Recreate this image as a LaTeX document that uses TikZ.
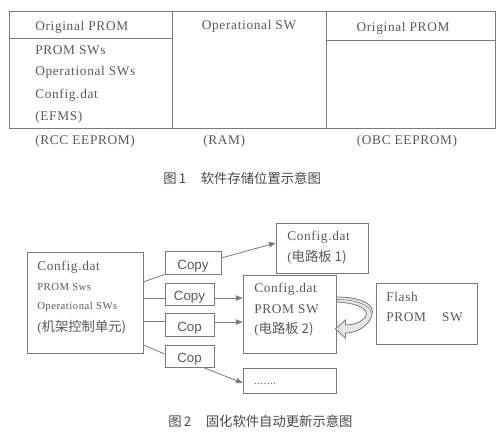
\documentclass[tikz,border=0pt]{standalone}
\usepackage{fontspec}
\setmainfont{Liberation Serif}[LetterSpace=5]
\newfontfamily\sansf{Liberation Sans}
\newfontfamily\cjk{Noto Sans CJK SC}
\usetikzlibrary{arrows.meta}
\newdimen\px \px=0.75pt
\definecolor{ln}{HTML}{7A7A7A}
\definecolor{tx}{HTML}{5A5A5A}
\definecolor{tx2}{HTML}{4A4A4A}
\definecolor{rib}{HTML}{E6E6E6}
\begin{document}
\begin{tikzpicture}[x=0.75pt,y=-0.75pt,
  tl/.style={inner sep=0pt, anchor=west, text=tx, font=\fontsize{10}{12}\selectfont},
  tc/.style={tl, anchor=center},
  ts/.style={tl, font=\fontsize{8}{10}\selectfont},
  bx/.style={draw=ln, line width=0.6pt, inner sep=0pt, rectangle},
  cp/.style={bx, text=tx, font=\sansf\fontsize{10}{12}\selectfont, text height=2.2ex, text depth=0pt},
  captext/.style={inner sep=0pt, anchor=west, text=tx2, font=\cjk\fontsize{10}{12}\selectfont},
  con/.style={draw=ln, line width=0.6pt},
  arr/.style={con, -{Triangle[length=5pt, width=4pt]}},
]
\useasboundingbox[fill=white] (0,0) rectangle (500,438);

% ---------- Figure 1 ----------
\draw[ln, line width=0.6pt] (9,11) rectangle (495,128);
\draw[ln, line width=0.6pt] (172,11) -- (172,128) (326,11) -- (326,128);
\draw[ln, line width=0.6pt] (9,38) -- (172,38) (326,40) -- (495,40);

\node[tl] (h1) at (35,27) {Original PROM};
\node[tl] (a1) at (35,50) {PROM SWs};
\node[tl] (a2) at (35,72) {Operational SWs};
\node[tl] (a3) at (35,95) {Config.dat};
\node[tl] (a4) at (35,117) {(EFMS)};
\node[tc] (h2) at (249,26) {Operational SW};
\node[tc] (h3) at (403,28) {Original PROM};
\node[tl] (u1) at (35,141) {(RCC EEPROM)};
\node[tl] (u2) at (203,141) {(RAM)};
\node[tc] (u3) at (407,141) {(OBC EEPROM)};

\node[captext] (cap1) at (163,178) {图\,1\hspace{1.1em}软件存储位置示意图};

% ---------- Figure 2 ----------
\node[bx, minimum width=116\px, minimum height=101\px] (L) at (85,302.5) {};
\node[tl] (L1) at (37,267) {Config.dat};
\node[ts] (L2) at (37,287) {PROM Sws};
\node[ts] (L3) at (37,307) {Operational SWs};
\node[tl] (L4) at (37,327) {(\cjk{机架控制单元})};

\node[cp, minimum width=56\px, minimum height=23\px] (C1) at (193,262.5) {Copy};
\node[cp, minimum width=49\px, minimum height=22\px] (C2) at (189.5,294) {Copy};
\node[cp, minimum width=49\px, minimum height=23\px] (C3) at (189.5,324.5) {Cop};
\node[cp, minimum width=49\px, minimum height=22\px] (C4) at (189.5,356) {Cop};

\node[bx, minimum width=92\px, minimum height=50\px] (B1) at (322,248) {};
\node[tl] (B1a) at (287,237) {Config.dat};
\node[tl] (B1b) at (287,257) {(\cjk{电路板} 1)};

\node[bx, minimum width=93\px, minimum height=78\px] (B2) at (289.5,314) {};
\node[tl] (B2a) at (254,289) {Config.dat};
\node[tl] (B2b) at (254,309) {PROM SW};
\node[tl] (B2c) at (254,329) {(\cjk{电路板} 2)};

\node[bx, minimum width=101\px, minimum height=61\px] (F) at (426.5,313.5) {};
\node[tl] (Fa) at (386,297) {Flash};
\node[tl] (Fb) at (386,317) {PROM\hspace{1.2em}SW};

\node[bx, minimum width=93\px, minimum height=25\px] (D) at (289.5,380.5) {};
\node[ts] (Da) at (254,384) {.......};

% connectors
\draw[con] (L.east |- 0,282) -- (C1.south west);
\draw[arr] (C1.east |- 0,258) -- (B1.west |- 0,243);
\draw[con] (L.east |- 0,298) -- (C2.west |- 0,298);
\draw[arr] (C2.east |- 0,298) -- (B2.west |- 0,298);
\draw[con] (L.east |- 0,321) -- (C3.west |- 0,321);
\draw[arr] (C3.east |- 0,322) -- (B2.west |- 0,322);
\draw[con] (L.east |- 0,345) -- (C4.west |- 0,354);
\draw[arr] (C4.south -| 203,0) -- (D.west |- 0,383);

% curved hollow arrow
\begin{scope}[shift={(B2.east)}]
\draw[ln, line width=0.6pt, fill=rib]
  (0,-17) .. controls (24,-17) and (37,-10) .. (36,-2)
  .. controls (35,10) and (22,19) .. (9,19)
  -- (9,24) -- (-1,15) -- (9,6) -- (9,11)
  .. controls (20,11) and (29,6) .. (30,0)
  .. controls (30,-6) and (20,-11) .. (0,-12) -- cycle;
\draw[ln, line width=0.4pt] (0,-14.5) .. controls (22,-14.5) and (34,-8) .. (35,-1);
\end{scope}

\node[captext] (cap2) at (168,421) {图\,2\hspace{1.1em}固化软件自动更新示意图};
\end{tikzpicture}
\end{document}
